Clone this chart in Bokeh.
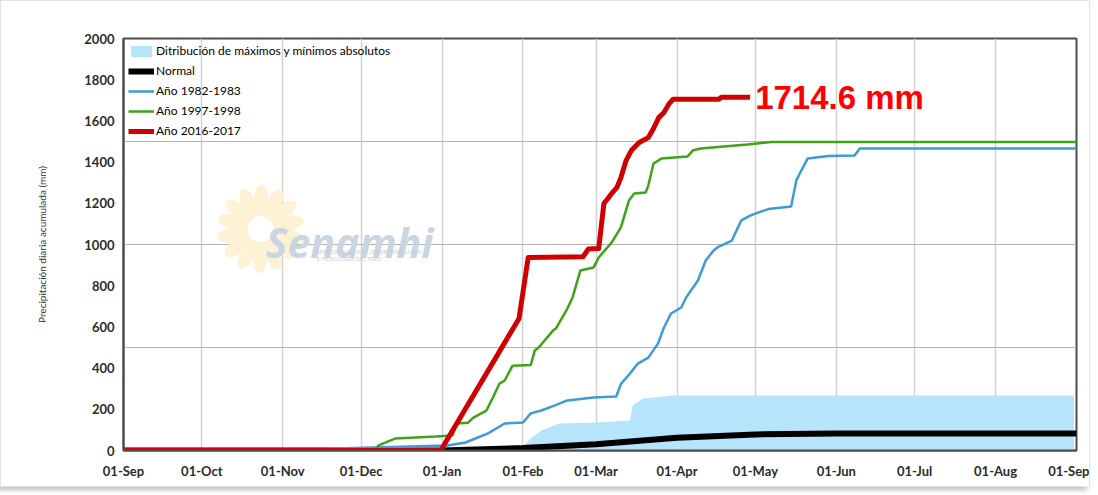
import math
from bokeh.plotting import figure
from bokeh.models import Range1d, FixedTicker, Legend, LegendItem, Label
from bokeh.core.properties import value
from bokeh.embed import file_html
from bokeh.resources import INLINE

# ---------------- data (day 0 = 01-Sep) ----------------
month_days = [0, 30, 61, 91, 122, 153, 181, 212, 242, 273, 303, 334, 365]
month_labels = ["01-Sep", "01-Oct", "01-Nov", "01-Dec", "01-Jan", "01-Feb", "01-Mar",
                "01-Apr", "01-May", "01-Jun", "01-Jul", "01-Aug", "01-Sep"]
y_ticks = [0, 200, 400, 600, 800, 1000, 1200, 1400, 1600, 1800, 2000]
y_grid = [500, 1000, 1500]

band_days = [152, 153, 156, 160, 167, 182, 194, 195, 199, 205, 210, 364]
band_max = [0, 20, 58, 97, 131, 136, 146, 218, 252, 260, 267, 267]
band_min = [0, 0, 0, 0, 0, 0, 0, 0, 0, 0, 0, 0]

normal_days = [0, 122, 153, 181, 212, 242, 273, 365]
normal_vals = [0, 0, 12, 30, 62, 78, 82, 82]

blue_days = [0, 77, 77.5, 124, 131, 139.6, 146, 153, 156, 160, 165, 170, 180, 188.7,
             190.6, 194, 197, 201, 204.7, 207, 209.7, 213.6, 215.5, 220, 223, 226, 228,
             233, 236.6, 240, 243, 247, 255.7, 257.7, 259.6, 262, 270, 280, 282, 365]
blue_vals = [0, 0, 8, 24, 39, 83, 131, 136, 180, 194, 218, 243, 257, 262,
             325, 374, 422, 451, 519, 597, 665, 694, 743, 825, 922, 971, 990,
             1019, 1117, 1140, 1155, 1172, 1184, 1311, 1359, 1417, 1430, 1432, 1466, 1466]

green_days = [0, 97, 97.5, 104, 119.6, 126, 127.7, 132, 134, 139, 141.5, 144, 146, 149,
              156, 157.5, 159, 164.5, 165.6, 170, 172, 175, 180, 182, 187, 190.5, 193.6,
              195.6, 200, 201, 203, 206, 216, 218, 221, 239, 248, 365]
green_vals = [0, 0, 24, 58, 68, 73, 131, 135, 160, 194, 257, 325, 340, 412,
              415, 485, 500, 582, 592, 689, 743, 874, 888, 937, 1010, 1083, 1214,
              1248, 1253, 1286, 1393, 1417, 1427, 1456, 1466, 1485, 1497, 1497]

red_days = [0, 121.5, 151.5, 155, 176, 178, 182, 184, 187, 189, 190.5, 192.5, 194.5,
            197.5, 201, 203, 205, 207, 209, 210.5, 228, 229, 240]
red_vals = [0, 0, 641, 937, 940, 978, 980, 1199, 1248, 1277, 1325, 1408, 1456,
            1495, 1519, 1563, 1616, 1641, 1684, 1705, 1705, 1714.6, 1714.6]

labels = ["Ditribución de máximos y mínimos absolutos", "Normal",
          "Año 1982-1983", "Año 1997-1998", "Año 2016-2017"]

# ---------------- figure ----------------
FONT = "Lato"
W, H = 1090, 487
ML, MR, MT, MB = 122, 15, 37, 38

p = figure(width=W, height=H, x_range=Range1d(0, 365), y_range=Range1d(0, 2000),
           output_backend="svg", toolbar_location=None,
           min_border_left=ML, min_border_right=MR, min_border_top=MT, min_border_bottom=MB)
p.styles = {"box-shadow": "-3px 3px 5px rgba(0,0,0,0.25)", "border": "1px solid #e4e4e4"}
p.background_fill_color = "white"
p.border_fill_color = "white"
p.outline_line_color = "#4d4d4d"
p.outline_line_width = 2

p.xgrid.ticker = FixedTicker(ticks=month_days)
p.xgrid.grid_line_color = "#d2d2d2"
p.xgrid.grid_line_width = 1.5
p.ygrid.ticker = FixedTicker(ticks=y_grid)
p.ygrid.grid_line_color = "#b4b4b4"
p.ygrid.grid_line_width = 1.2

p.xaxis.ticker = FixedTicker(ticks=month_days)
p.xaxis.major_label_overrides = {d: l for d, l in zip(month_days, month_labels)}
p.yaxis.ticker = FixedTicker(ticks=y_ticks)
for ax in (p.xaxis[0], p.yaxis[0]):
    ax.major_tick_line_color = None
    ax.minor_tick_line_color = None
    ax.axis_line_color = "#4d4d4d"
    ax.axis_line_width = 2
    ax.major_label_text_font = FONT
    ax.major_label_text_font_size = "13px"
    ax.major_label_text_color = "#2b2b2b"
    ax.major_label_text_font_style = "bold"
p.xaxis.major_label_standoff = 6
p.yaxis.major_label_standoff = 3
p.yaxis.axis_label = "Precipitación diaria acumulada (mm)"
p.yaxis.axis_label_text_font = FONT
p.yaxis.axis_label_text_font_size = "10px"
p.yaxis.axis_label_text_font_style = "normal"
p.yaxis.axis_label_text_color = "#333333"
p.yaxis.axis_label_standoff = 33

# ---------------- watermark ----------------
fx = (W - ML - MR) / 365.0
fy = (H - MT - MB) / 2000.0
cx, cy = 52.5, 1075.0
n = 14
pet_x, pet_y, pet_a = [], [], []
for i in range(n):
    a = 2 * math.pi * i / n + 0.2
    pet_x.append(cx + 31 * math.cos(a) / fx)
    pet_y.append(cy + 31 * math.sin(a) / fy)
    pet_a.append(a)
p.ellipse(x=pet_x, y=pet_y, width=26, height=14, angle=pet_a,
          width_units="screen", height_units="screen",
          fill_color="#fdf3d4", line_color=None)
p.annulus(x=[cx], y=[cy], inner_radius=13, outer_radius=24,
          inner_radius_units="screen", outer_radius_units="screen",
          fill_color="#fdf3d4", line_color=None)
p.text(x=[cx + 2], y=[1010], text=["Senamhi"], text_font=value("Open Sans"),
       text_font_size="41px", text_font_style="bold italic", text_color="#c9d6e2",
       text_baseline="alphabetic", text_align="left")
p.text(x=[73.9, 73.9], y=[965, 931],
       text=["SERVICIO NACIONAL DE METEOROLOGIA", "E HIDROLOGIA DEL PERU"],
       text_font=value("Open Sans"), text_font_size="5.5px", text_color="#c3cad2",
       text_baseline="middle")

# ---------------- series ----------------
band = p.varea(x=band_days, y1=band_min, y2=band_max, fill_color="#b5e4fb")
normal = p.line(normal_days, normal_vals, line_color="black", line_width=6)
blue = p.line(blue_days, blue_vals, line_color="#3d9bd8", line_width=2.5)
green = p.line(green_days, green_vals, line_color="#3ea317", line_width=2.5)
red = p.line(red_days, red_vals, line_color="#d10000", line_width=5, line_join="round")

p.add_layout(Label(x=red_days[-1], y=red_vals[-1], text=f"{red_vals[-1]} mm",
                   x_offset=5, text_baseline="middle", text_align="left",
                   text_font="Liberation Sans", text_font_size="33px",
                   text_font_style="bold", text_color="#ff0000"))

legend = Legend(items=[LegendItem(label=lab, renderers=[r]) for lab, r in
                       zip(labels, [band, normal, blue, green, red])],
                location="top_left", margin=5, padding=10, spacing=5,
                glyph_width=26, glyph_height=14, label_height=14, label_standoff=2,
                label_text_font=FONT, label_text_font_size="12px",
                label_text_color="black", background_fill_alpha=0,
                border_line_color=None)
p.add_layout(legend)

open("out.html", "w").write(file_html(p, INLINE))
